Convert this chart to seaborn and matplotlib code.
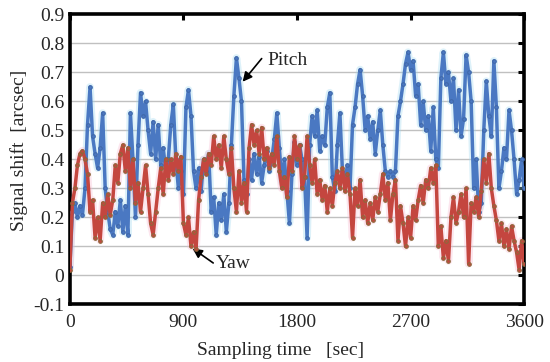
import numpy as np
import pandas as pd
import seaborn as sns
import matplotlib.pyplot as plt

# Sampling time [sec], one value every 20 sec
sampling_time = np.arange(0, 3620, 20)

# Pitch signal shift [arcsec] (rows of 200 sec)
pitch = [
    0.03, 0.22, 0.25, 0.20, 0.24, 0.21, 0.30, 0.52, 0.65, 0.48,
    0.42, 0.37, 0.44, 0.56, 0.30, 0.22, 0.16, 0.14, 0.22, 0.17,
    0.26, 0.15, 0.24, 0.14, 0.56, 0.40, 0.20, 0.45, 0.63, 0.55,
    0.60, 0.50, 0.42, 0.53, 0.40, 0.52, 0.38, 0.44, 0.36, 0.40,
    0.52, 0.59, 0.40, 0.30, 0.36, 0.28, 0.58, 0.64, 0.55, 0.36,
    0.30, 0.37, 0.29, 0.40, 0.36, 0.42, 0.22, 0.27, 0.14, 0.25,
    0.19, 0.28, 0.15, 0.25, 0.45, 0.62, 0.75, 0.68, 0.60, 0.33,
    0.28, 0.40, 0.33, 0.42, 0.35, 0.41, 0.32, 0.38, 0.43, 0.36,
    0.40, 0.47, 0.56, 0.44, 0.32, 0.40, 0.29, 0.18, 0.35, 0.46,
    0.38, 0.45, 0.40, 0.34, 0.13, 0.45, 0.55, 0.48, 0.57, 0.43,
    0.48, 0.45, 0.58, 0.63, 0.34, 0.29, 0.45, 0.56, 0.36, 0.33,
    0.38, 0.30, 0.52, 0.58, 0.66, 0.71, 0.62, 0.50, 0.55, 0.47,
    0.53, 0.42, 0.50, 0.57, 0.45, 0.36, 0.34, 0.36, 0.34, 0.36,
    0.55, 0.60, 0.66, 0.73, 0.77, 0.71, 0.74, 0.62, 0.66, 0.52,
    0.60, 0.50, 0.55, 0.43, 0.58, 0.40, 0.37, 0.68, 0.77, 0.66,
    0.70, 0.60, 0.68, 0.50, 0.64, 0.48, 0.54, 0.76, 0.70, 0.60,
    0.30, 0.40, 0.22, 0.25, 0.50, 0.67, 0.55, 0.48, 0.74, 0.58,
    0.30, 0.36, 0.44, 0.40, 0.57, 0.50, 0.40, 0.28, 0.33, 0.40,
    0.30,
]

# Yaw signal shift [arcsec]
yaw = [
    0.02, 0.25, 0.30, 0.38, 0.42, 0.43, 0.40, 0.35, 0.22, 0.26,
    0.13, 0.20, 0.12, 0.25, 0.20, 0.28, 0.21, 0.26, 0.38, 0.32,
    0.42, 0.45, 0.36, 0.44, 0.30, 0.40, 0.25, 0.32, 0.22, 0.30,
    0.38, 0.28, 0.18, 0.14, 0.22, 0.30, 0.37, 0.28, 0.40, 0.33,
    0.40, 0.35, 0.42, 0.36, 0.41, 0.18, 0.14, 0.20, 0.10, 0.15,
    0.09, 0.26, 0.34, 0.40, 0.35, 0.42, 0.38, 0.48, 0.40, 0.45,
    0.37, 0.48, 0.40, 0.35, 0.44, 0.30, 0.22, 0.36, 0.25, 0.32,
    0.22, 0.44, 0.52, 0.45, 0.50, 0.42, 0.51, 0.40, 0.44, 0.37,
    0.42, 0.38, 0.48, 0.36, 0.30, 0.34, 0.27, 0.41, 0.36, 0.48,
    0.40, 0.45, 0.30, 0.34, 0.48, 0.38, 0.32, 0.40, 0.28, 0.33,
    0.26, 0.31, 0.22, 0.30, 0.24, 0.32, 0.36, 0.30, 0.37, 0.29,
    0.35, 0.28, 0.13, 0.30, 0.24, 0.33, 0.20, 0.26, 0.18, 0.25,
    0.19, 0.27, 0.22, 0.28, 0.35, 0.26, 0.32, 0.19, 0.28, 0.33,
    0.12, 0.24, 0.18, 0.10, 0.20, 0.13, 0.24, 0.19, 0.26, 0.31,
    0.25, 0.33, 0.30, 0.37, 0.32, 0.38, 0.10, 0.17, 0.06, 0.12,
    0.05, 0.20, 0.27, 0.18, 0.22, 0.28, 0.20, 0.30, 0.04, 0.25,
    0.22, 0.27, 0.20, 0.29, 0.40, 0.32, 0.42, 0.30, 0.24, 0.19,
    0.12, 0.18, 0.10, 0.16, 0.09, 0.17, 0.12, 0.08, 0.02, 0.12,
    0.04,
]

y_ticks = [-0.1, 0.0, 0.1, 0.2, 0.3, 0.4, 0.5, 0.6, 0.7, 0.8, 0.9]
y_tick_labels = ["-0.1", "0", "0.1", "0.2", "0.3", "0.4", "0.5", "0.6", "0.7", "0.8", "0.9"]
x_ticks = [0, 900, 1800, 2700, 3600]

df = pd.DataFrame({"time": sampling_time, "Pitch": pitch, "Yaw": yaw})

sns.set_style("white")
plt.rcParams["font.family"] = ["Liberation Serif", "DejaVu Serif"]
plt.rcParams["font.size"] = 14

fig = plt.figure(figsize=(5.5, 3.62), dpi=100)
ax = fig.add_axes([0.127, 0.159, 0.826, 0.801])

# light grid first
for v in y_ticks[1:-1]:
    ax.axhline(v, color="#c0c0c0", lw=1.0, zorder=0)

# faint halos (the colour bleed around each trace in the reference)
sns.lineplot(data=df, x="time", y="Pitch", ax=ax, color="#9fd8f0", lw=5.5, alpha=0.35, zorder=1)
sns.lineplot(data=df, x="time", y="Yaw", ax=ax, color="#f7b8d0", lw=5.5, alpha=0.35, zorder=1)

sns.lineplot(data=df, x="time", y="Pitch", ax=ax, color="#4a78c2", lw=2.5,
             marker="o", markersize=2.6, markeredgecolor="#3f67a8", zorder=3)
sns.lineplot(data=df, x="time", y="Yaw", ax=ax, color="#c4463f", lw=2.5,
             marker="o", markersize=2.6, markeredgecolor="#8a6a3a", zorder=4)

ax.set_xlim(0, 3600)
ax.set_ylim(-0.1, 0.9)
ax.set_xticks(x_ticks)
ax.set_xticklabels([str(t) for t in x_ticks])
ax.set_yticks(y_ticks)
ax.set_yticklabels(y_tick_labels)
ax.tick_params(direction="in", length=4, width=2.2, top=True, right=True,
               labelsize=14, color="black")
ax.tick_params(axis="x", pad=7)
ax.tick_params(axis="y", pad=4)
for s in ax.spines.values():
    s.set_linewidth(2.6)
    s.set_color("black")

ax.set_xlabel("Sampling time   [sec]", fontsize=14)
ax.xaxis.set_label_coords(0.463, -0.128)
ax.set_ylabel("Signal shift  [arcsec]", fontsize=14)
ax.yaxis.set_label_coords(-0.092, 0.53)

# arrows and their labels
arrow = dict(arrowstyle="-|>", color="black", lw=1.2, mutation_scale=14, shrinkA=0, shrinkB=0)
ax.annotate("", xy=(1369, 0.668), xytext=(1520, 0.748), arrowprops=arrow)
ax.text(1562, 0.742, "Pitch", fontsize=14, va="center", ha="left")
ax.annotate("", xy=(973, 0.093), xytext=(1136, 0.043), arrowprops=arrow)
ax.text(1158, 0.040, "Yaw", fontsize=14, va="center", ha="left")

fig.savefig("out.png", dpi=100)
plt.close(fig)
